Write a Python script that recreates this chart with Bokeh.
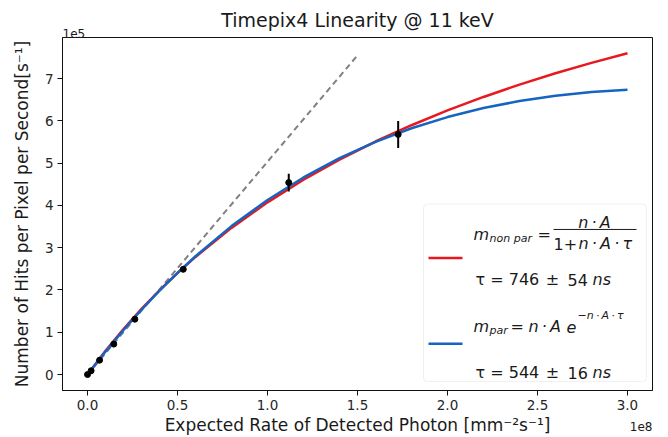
import math
from bokeh.plotting import figure
from bokeh.models import Range1d, FixedTicker, Label, BoxAnnotation, Title
from bokeh.embed import file_html
from bokeh.resources import INLINE

# ---------------- data (x in 1e8 mm^-2 s^-1, y in 1e5 s^-1) ----------------
rate = [0.0, 0.02, 0.067, 0.146, 0.263, 0.532, 1.118, 1.726]
hits = [0.0, 0.09, 0.34, 0.72, 1.31, 2.49, 4.54, 5.68]
hits_err = [0.0, 0.0, 0.0, 0.0, 0.0, 0.0, 0.21, 0.32]

fit_rate = [0.0, 0.1, 0.2, 0.3, 0.4, 0.5, 0.6, 0.8, 1.0, 1.2, 1.4, 1.6,
            1.8, 2.0, 2.2, 2.4, 2.6, 2.8, 3.0]
fit_nonpar = [0.0, 0.561, 1.076, 1.552, 1.992, 2.401, 2.782, 3.469, 4.073,
              4.607, 5.084, 5.512, 5.897, 6.247, 6.566, 6.858, 7.125, 7.372, 7.600]
fit_par = [0.0, 0.543, 1.054, 1.533, 1.983, 2.404, 2.799, 3.511, 4.129,
           4.662, 5.118, 5.503, 5.825, 6.090, 6.303, 6.470, 6.595, 6.682, 6.736]

ideal_rate = [0.0, 1.5]
ideal_hits = [0.0, 7.55]

x_ticks = [0.0, 0.5, 1.0, 1.5, 2.0, 2.5, 3.0]
x_tick_labels = ["0.0", "0.5", "1.0", "1.5", "2.0", "2.5", "3.0"]
y_ticks = [0, 1, 2, 3, 4, 5, 6, 7]
y_tick_labels = ["0", "1", "2", "3", "4", "5", "6", "7"]

title_text = "Timepix4 Linearity @ 11 keV"
x_label = "Expected Rate of Detected Photon [mm\u207b\u00b2s\u207b\u00b9]"
y_label = "Number of Hits per Pixel per Second[s\u207b\u00b9]"
x_offset_text = "1e8"
y_offset_text = "1e5"

# ---------------- layout ----------------
FONT = "DejaVu Sans"
RED = "#e8191e"
BLUE = "#1565c0"
TXT = "#1a1a1a"

W, H = 668, 437
FL, FR, FT, FB = 62, 652, 37, 391          # frame edges in canvas pixels
X0, X1 = -0.139, 3.139
Y0, Y1 = -0.377, 7.972


def gx(px):
    return X0 + (px - FL) / (FR - FL) * (X1 - X0)


def gy(py):
    return Y1 - (py - FT) / (FB - FT) * (Y1 - Y0)


p = figure(width=W, height=H, output_backend="svg", toolbar_location=None,
           x_range=Range1d(X0, X1), y_range=Range1d(Y0, Y1),
           min_border_left=FL, min_border_right=W - FR,
           min_border_top=FT, min_border_bottom=H - FB)
p.grid.visible = False
p.outline_line_color = "#111111"
p.outline_line_width = 1
p.background_fill_color = "white"
p.border_fill_color = "white"

for ax, ticks, labels in ((p.xaxis[0], x_ticks, x_tick_labels),
                          (p.yaxis[0], y_ticks, y_tick_labels)):
    ax.ticker = FixedTicker(ticks=ticks)
    ax.major_label_overrides = {t: l for t, l in zip(ticks, labels)}
    ax.minor_tick_line_color = None
    ax.major_tick_in = 0
    ax.major_tick_out = 5
    ax.major_tick_line_color = "#111111"
    ax.axis_line_color = "#111111"
    ax.major_label_text_font = FONT
    ax.major_label_text_font_size = "13.5px"
    ax.major_label_text_color = "#262626"
    ax.major_label_standoff = 4
    ax.axis_label_text_font = FONT
    ax.axis_label_text_font_size = "17px"
    ax.axis_label_text_font_style = "normal"
    ax.axis_label_text_color = TXT

p.xaxis[0].axis_label = x_label
p.xaxis[0].axis_label_standoff = 2
p.yaxis[0].axis_label = y_label
p.yaxis[0].axis_label_standoff = 10

# offset text "1e5" (matplotlib style) and title
p.add_layout(Title(text=y_offset_text, align="left", text_font=FONT,
                   text_font_size="12px", text_font_style="normal",
                   text_color=TXT, standoff=0), "above")
p.add_layout(Title(text=title_text, align="center", text_font=FONT,
                   text_font_size="19px", text_font_style="normal",
                   text_color=TXT, standoff=-9), "above")
# offset text "1e8", pulled up beside the x-axis label
p.add_layout(Title(text=x_offset_text, align="right", vertical_align="top",
                   text_font=FONT, text_font_size="12px",
                   text_font_style="normal", text_color=TXT, standoff=-32),
             "below")

# ---------------- marks ----------------
p.line(ideal_rate, ideal_hits, line_color="#808080", line_width=2,
       line_dash="6 4")
p.line(fit_rate, fit_nonpar, line_color=RED, line_width=2.5)
p.line(fit_rate, fit_par, line_color=BLUE, line_width=2.5)

err_x = [r for r, e in zip(rate, hits_err) if e > 0]
err_lo = [h - e for h, e in zip(hits, hits_err) if e > 0]
err_hi = [h + e for h, e in zip(hits, hits_err) if e > 0]
p.segment(x0=err_x, y0=err_lo, x1=err_x, y1=err_hi, line_color="black",
          line_width=2)
p.scatter(rate, hits, size=6, fill_color="black", line_color="black")


# ---------------- legend texts ----------------
def lab(text, px, py, size, align="left", baseline="alphabetic",
        style="normal", color=TXT):
    p.add_layout(Label(x=gx(px), y=gy(py), text=text, text_font=FONT,
                       text_font_size=size, text_align=align,
                       text_baseline=baseline, text_font_style=style,
                       text_color=color))


p.add_layout(BoxAnnotation(left=gx(423), right=gx(646), top=gy(204),
                           bottom=gy(382), fill_color="white", fill_alpha=0.8,
                           line_color="#cccccc", line_width=1,
                           border_radius=4, level="underlay"))
p.line([gx(428), gx(462)], [gy(258), gy(258)], line_color=RED, line_width=2.5)
p.line([gx(428), gx(462)], [gy(344), gy(344)], line_color=BLUE, line_width=2.5)

TS = "\u2009"
# entry 1: m_non par = n·A / (1 + n·A·τ)
lab("m", 473, 235, "16px", style="italic")
lab("non par", 489, 239, "11px", style="italic")
lab("=", 537, 235, "16px")
lab("n" + TS + "·" + TS + "A", 594, 223, "16px", align="center", style="italic")
p.line([gx(553), gx(636)], [gy(229.5), gy(229.5)], line_color=TXT, line_width=1)
lab("1+", 553, 244, "16px")
lab("n" + TS + "·" + TS + "A" + TS + "·" + TS + "τ", 578, 244, "16px",
    style="italic")
lab("τ = 746", 475, 280, "16px")
lab("±", 552, 280, "16px", align="center")
lab("54", 567, 280, "16px")
lab("ns", 592, 280, "16px", style="italic")

# entry 2: m_par = n·A e^(-n·A·τ)
lab("m", 473, 327, "16px", style="italic")
lab("par", 489, 331, "11px", style="italic")
lab("=", 510, 327, "16px")
lab("n" + TS + "·" + TS + "A", 528, 327, "16px", style="italic")
lab("e", 566, 327, "16px", style="italic")
lab("\u2212n" + TS + "·" + TS + "A" + TS + "·" + TS + "τ", 577, 316, "11px",
    style="italic")
lab("τ = 544", 475, 373, "16px")
lab("±", 552, 373, "16px", align="center")
lab("16", 567, 373, "16px")
lab("ns", 592, 373, "16px", style="italic")

open("out.html", "w").write(file_html(p, INLINE))
